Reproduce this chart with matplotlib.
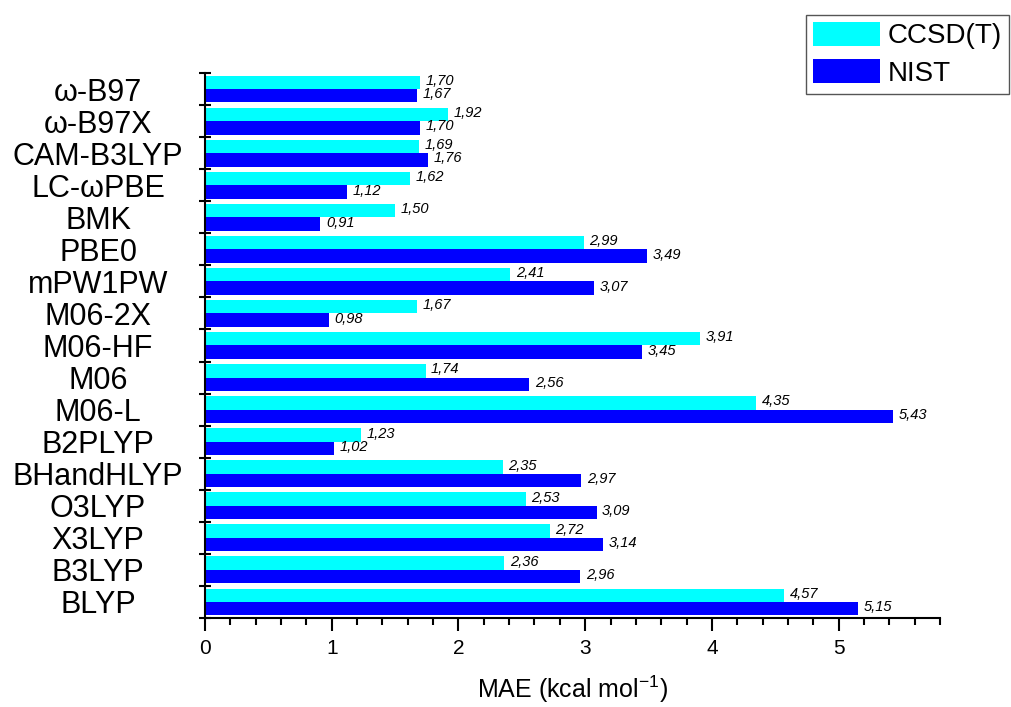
import numpy as np
import matplotlib
matplotlib.use("Agg")
import matplotlib.pyplot as plt
from matplotlib.ticker import MultipleLocator, FixedLocator

plt.rcParams['font.family'] = ['Liberation Sans', 'DejaVu Sans']

methods = ["ω-B97", "ω-B97X", "CAM-B3LYP", "LC-ωPBE", "BMK", "PBE0", "mPW1PW",
           "M06-2X", "M06-HF", "M06", "M06-L", "B2PLYP", "BHandHLYP", "O3LYP",
           "X3LYP", "B3LYP", "BLYP"]
ccsdt = [1.70, 1.92, 1.69, 1.62, 1.50, 2.99, 2.41, 1.67, 3.91, 1.74, 4.35,
         1.23, 2.35, 2.53, 2.72, 2.36, 4.57]
nist = [1.67, 1.70, 1.76, 1.12, 0.91, 3.49, 3.07, 0.98, 3.45, 2.56, 5.43,
        1.02, 2.97, 3.09, 3.14, 2.96, 5.15]

fig = plt.figure(figsize=(10.11, 7.07), dpi=100)
ax = fig.add_axes([205/1011, 1 - 618/707, 735/1011, (618 - 73)/707])

y = np.arange(len(methods))
h = 0.42
b1 = ax.barh(y - h/2, ccsdt, height=h, color="#00FFFF", linewidth=0, label="CCSD(T)")
b2 = ax.barh(y + h/2, nist, height=h, color="#0000FF", linewidth=0, label="NIST")

for bars, vals in ((b1, ccsdt), (b2, nist)):
    for bar, v in zip(bars, vals):
        ax.annotate(f"{v:.2f}".replace(".", ","),
                    (bar.get_width(), bar.get_y() + bar.get_height()/2),
                    xytext=(4, 1), textcoords="offset points",
                    va="center", ha="left", fontsize=10.5, style="italic")

ax.set_xlim(0, 5.8)
ax.set_ylim(len(methods) - 0.5, -0.5)

ax.xaxis.set_major_locator(MultipleLocator(1))
ax.xaxis.set_minor_locator(MultipleLocator(0.2))
ax.tick_params(axis="x", which="major", direction="out", length=9, width=1.5,
               labelsize=15, pad=6)
ax.tick_params(axis="x", which="minor", direction="out", length=5, width=1.5)

ax.set_yticks(y)
ax.set_yticklabels(methods, fontsize=22)
for lab in ax.get_yticklabels():
    lab.set_ha("center")
ax.yaxis.set_minor_locator(FixedLocator(np.arange(-0.5, len(methods), 1)))
ax.tick_params(axis="y", which="major", length=0, pad=77)
ax.tick_params(axis="y", which="minor", direction="inout", length=8, width=1.5)

for s in ("top", "right"):
    ax.spines[s].set_visible(False)
for s in ("left", "bottom"):
    ax.spines[s].set_linewidth(1.5)

ax.set_xlabel("MAE (kcal mol$^{\\mathregular{-1}}$)", fontsize=18, labelpad=11)

leg = fig.legend(handles=[b1, b2], loc="upper left",
                 bbox_to_anchor=(806/1011, 1 - 15/707), borderaxespad=0,
                 fontsize=20, handlelength=2.4, handleheight=0.95,
                 handletextpad=0.3, labelspacing=0.35, borderpad=0.25,
                 fancybox=False, framealpha=1)
leg.get_frame().set_edgecolor("#555555")
leg.get_frame().set_linewidth(1.0)

fig.savefig("out.png", dpi=100)
